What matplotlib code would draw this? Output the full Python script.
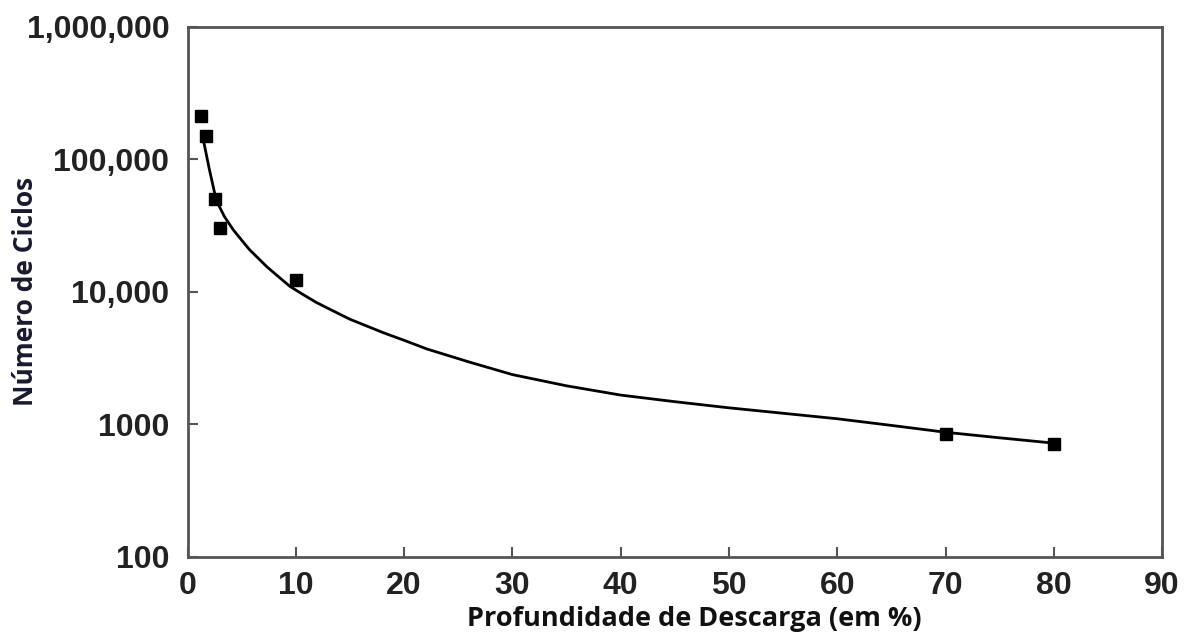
import matplotlib.pyplot as plt

# measured points (depth of discharge %, cycles)
dod_pts = [1.25, 1.67, 2.5, 3.0, 10.0, 70.0, 80.0]
cycles_pts = [213000, 151000, 50000, 30500, 12200, 850, 713]

# fitted curve
curve_x = [1.5, 2.0, 2.65, 3.4, 4.2, 5.0, 5.74, 6.5, 7.3, 8.3, 9.44, 10.6, 11.9,
           13.4, 15.0, 18.1, 20.0, 22.1, 26.0, 30.0, 35.0, 40.0, 45.0, 50.0,
           55.0, 60.0, 65.0, 70.0, 75.0, 80.0]
curve_y = [135000, 85000, 49000, 37000, 29500, 24500, 20700, 18000, 15500, 13200,
           11000, 9600, 8300, 7200, 6200, 4900, 4300, 3700, 2950, 2370, 1950,
           1660, 1480, 1330, 1210, 1100, 980, 870, 790, 720]

yticks = [100, 1000, 10000, 100000, 1000000]
ytick_labels = ['100', '1000', '10,000', '100,000', '1,000,000']
xticks = [0, 10, 20, 30, 40, 50, 60, 70, 80, 90]

fig = plt.figure(figsize=(11.87, 6.37), dpi=100)
ax = fig.add_axes([0.158, 0.126, 0.821, 0.832])

ax.plot(curve_x, curve_y, color='black', lw=2)
ax.plot(dod_pts, cycles_pts, 's', color='black', ms=9)

ax.set_yscale('log')
ax.set_xlim(0, 90)
ax.set_ylim(100, 1000000)
ax.set_yticks(yticks)
ax.set_yticklabels(ytick_labels)
ax.minorticks_off()
ax.set_xticks(xticks)

for s in ax.spines.values():
    s.set_color('#555555')
    s.set_linewidth(2)
ax.tick_params(direction='in', length=7, width=1.5, color='#555555')
ax.tick_params(axis='y', pad=13)
ax.tick_params(axis='x', pad=10)
for lab in ax.get_xticklabels() + ax.get_yticklabels():
    lab.set_fontfamily('Liberation Sans')
    lab.set_fontweight('bold')
    lab.set_fontsize(23)
    lab.set_color('#222222')

ax.set_xlabel('Profundidade de Descarga (em %)', fontfamily='Open Sans', fontweight='bold',
              fontsize=19.5, color='#111111')
ax.xaxis.set_label_coords(0.52, -0.093)
ax.set_ylabel('Número de Ciclos', fontfamily='Open Sans', fontweight='bold',
              fontsize=19, color='#1a1a2e')
ax.yaxis.set_label_coords(-0.152, 0.5)

fig.savefig('out.png', dpi=100)
